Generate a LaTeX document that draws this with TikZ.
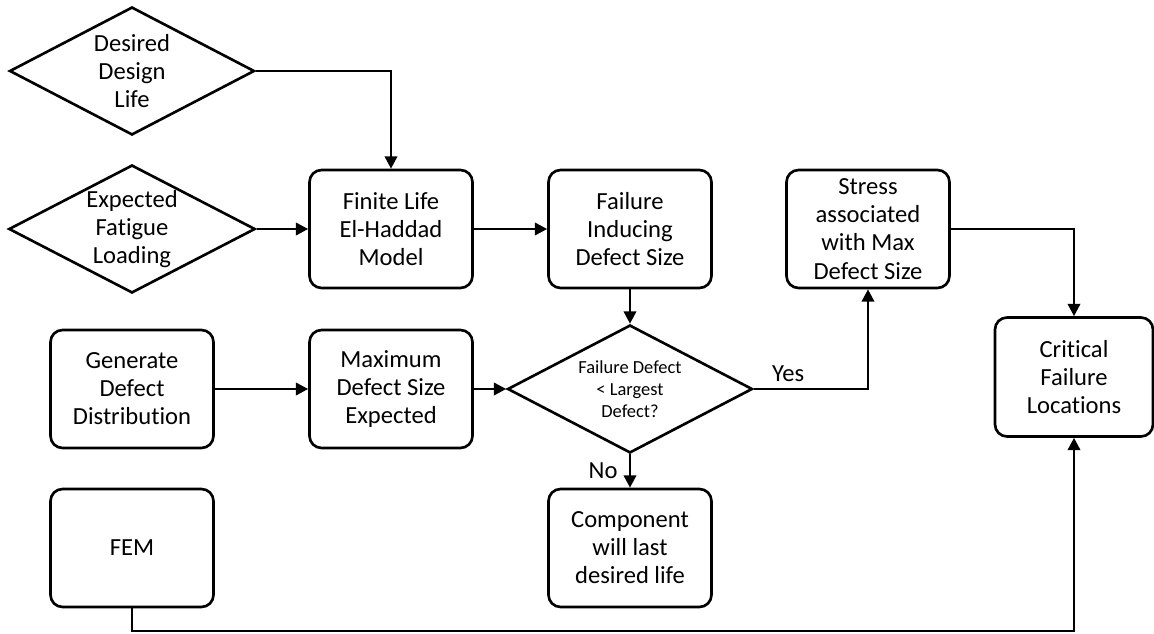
\documentclass[tikz,border=0pt]{standalone}
\usepackage{fontspec}
\setmainfont{Carlito}[Ligatures=NoCommon]
\usetikzlibrary{shapes.geometric,arrows.meta}

\tikzset{
	process/.style={draw, line width=1.5pt, rounded corners=0.24cm, align=center,
		minimum width=3.26cm, minimum height=2.36cm, inner sep=2pt,
		font=\fontsize{14}{16}\selectfont},
	input/.style={draw, line width=1.5pt, diamond, aspect=2, align=center, inner sep=0pt,
		minimum width=4.9cm, minimum height=2.56cm,
		font=\fontsize{14}{16}\selectfont},
	flow/.style={line width=1.5pt, -{Triangle[length=7pt,width=7pt]}},
}

\begin{document}
\begin{tikzpicture}[x=0.02cm, y=-0.02cm]% pixel grid, y pointing down
	\useasboundingbox (0,0) rectangle (1154,634);

	% inputs
	\node[input] (desired) at (132,71) {Desired\\Design\\Life};
	\node[input] (loading) at (132,229) {Expected\\Fatigue\\Loading};

	% top row
	\node[process] (elhaddad) at (391,229) {Finite Life\\El-Haddad\\Model};
	\node[process] (failsize) at (630,229) {Failure\\Inducing\\Defect Size};
	\node[process] (stress) at (868,229) {Stress\\associated\\with Max\\Defect Size};

	% middle row
	\node[process] (generate) at (132,389) {Generate\\Defect\\Distribution};
	\node[process] (maxsize) at (391,389) {Maximum\\Defect Size\\Expected};
	\node[input, font=\fontsize{10.5}{12.5}\selectfont] (decide) at (630,389) {Failure Defect\\< Largest\\Defect?};
	\node[process, minimum width=3.16cm, minimum height=2.38cm] (critical) at (1074,377) {Critical\\Failure\\Locations};

	% bottom row
	\node[process] (fem) at (132,548) {FEM};
	\node[process] (lasts) at (630,548) {Component\\will last\\desired life};
	\coordinate (bus) at (132,631);

	\draw[flow] (desired.east) -| (elhaddad.north);
	\draw[flow] (loading) -- (elhaddad);
	\draw[flow] (elhaddad) -- (failsize);
	\draw[flow] (failsize) -- (decide);
	\draw[flow] (generate) -- (maxsize);
	\draw[flow] (maxsize) -- (decide);
	\draw[flow] (decide.east) -| node[above, pos=0.15, font=\fontsize{14}{16}\selectfont]{Yes} (stress.south);
	\draw[flow] (decide.south) -- node[left, xshift=-3pt, font=\fontsize{14}{16}\selectfont]{No} (lasts.north);
	\draw[flow] (stress.east) -| (critical.north);
	\draw[flow] (fem.south) -- (bus) -| (critical.south);
\end{tikzpicture}
\end{document}
